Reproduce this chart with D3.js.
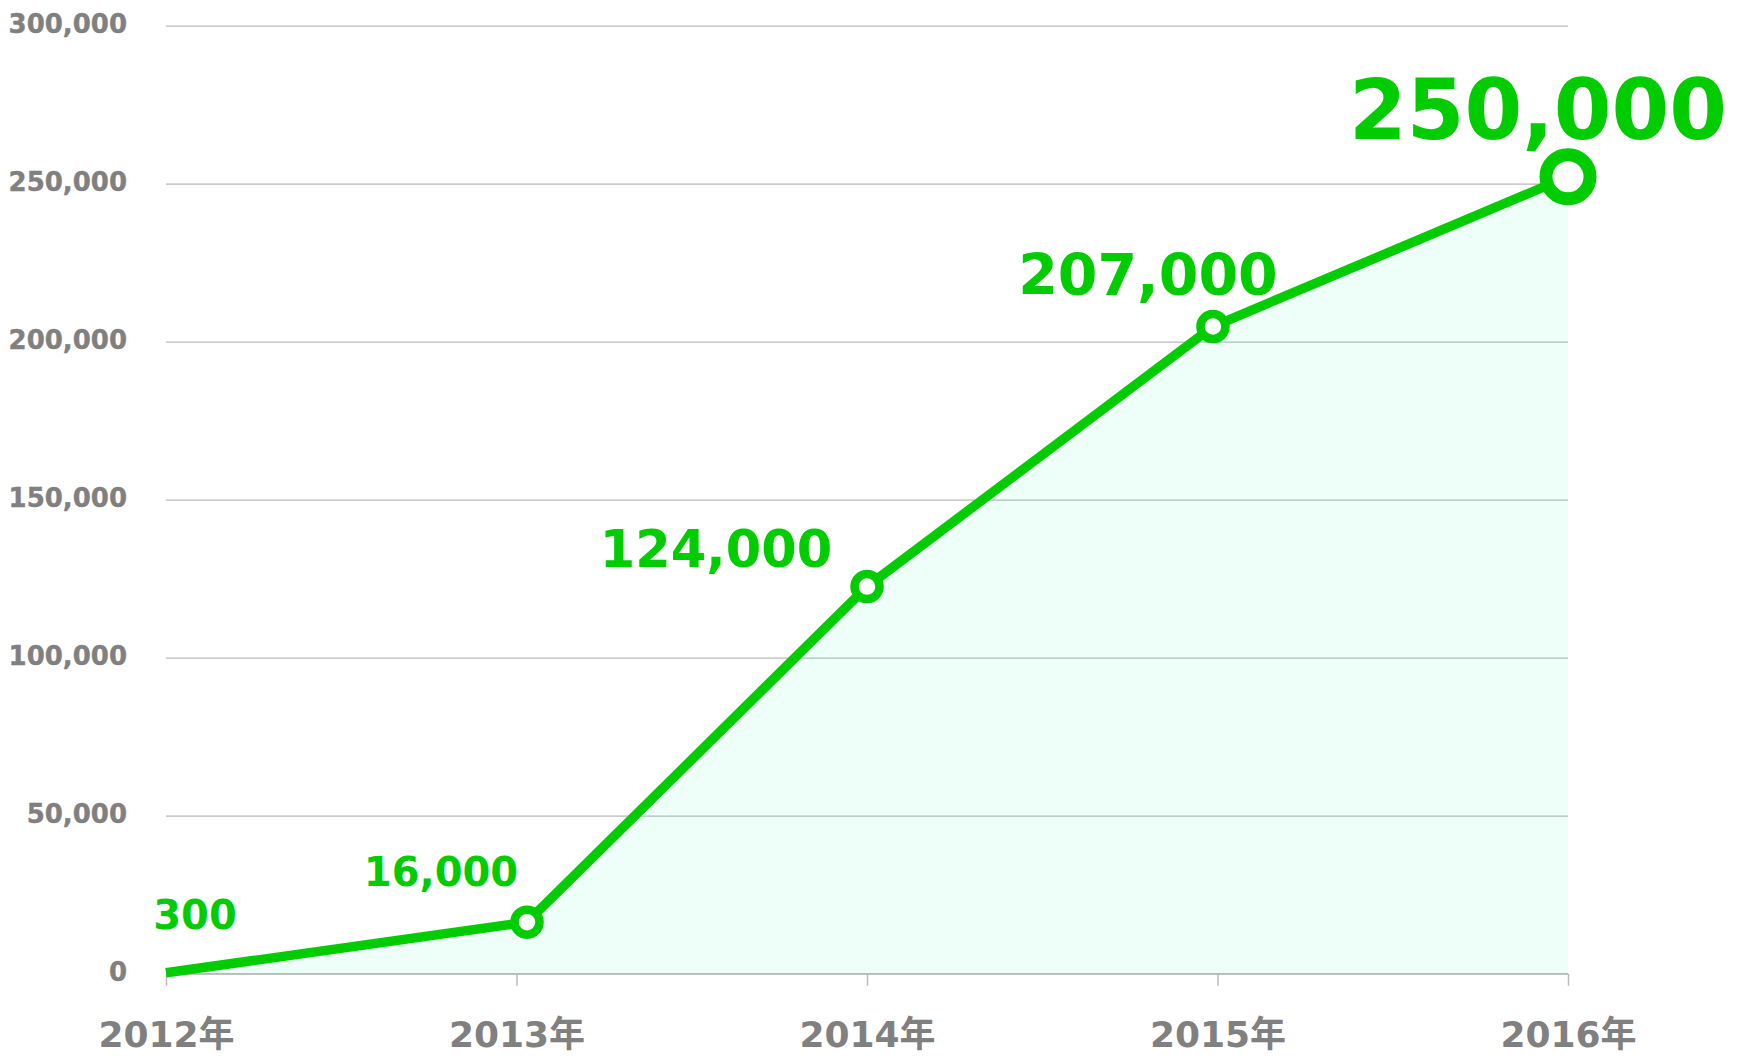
<!DOCTYPE html>
<html>
<head>
<meta charset="utf-8">
<script src="https://cdn.jsdelivr.net/npm/d3@7"></script>
<style>
  html, body { margin: 0; padding: 0; background: #ffffff; }
  svg { display: block; }
  text { font-family: "DejaVu Sans", Verdana, "Noto Sans CJK JP", sans-serif; font-weight: bold; }
</style>
</head>
<body>
<svg id="chart" width="1744" height="1056"></svg>
<script>
// ---- data ----
const years = [2012, 2013, 2014, 2015, 2016];
const yearLabels = ["2012年", "2013年", "2014年", "2015年", "2016年"];
const pointX = [2012, 2013.03, 2014, 2014.987, 2016];
const pointValues = [300, 16300, 122500, 204800, 252200];
const valueLabels = ["300", "16,000", "124,000", "207,000", "250,000"];
const yTicks = [0, 50000, 100000, 150000, 200000, 250000, 300000];

// ---- styles / layout ----
const GREEN = "#00cc00";
const GRAY_TEXT = "#808080";
const GRID = "#bababa";
const labelSizes = [40, 40, 51, 57, 83];
const labelOffsets = [[29, -44], [-86, -36], [-151, -20], [-65, -32], [-30, -38]];
const markerR = [0, 12.5, 12.5, 12.5, 22];
const markerW = [0, 8.5, 8.5, 8.5, 13];

const svg = d3.select("#chart");
const x = d3.scaleLinear().domain([2012, 2016]).range([166, 1568]);
const y = d3.scaleLinear().domain([0, 300000]).range([973.7, 25.7]);

// gridlines via axis
const yAxis = d3.axisLeft(y).tickValues(yTicks)
  .tickSize(-(x.range()[1] - x.range()[0]))
  .tickPadding(39)
  .tickFormat(d3.format(","));
const gy = svg.append("g").attr("transform", `translate(${x.range()[0]},0)`).call(yAxis);
gy.select(".domain").remove();
gy.selectAll(".tick line").attr("stroke", GRID).attr("stroke-width", 1.3);
gy.selectAll(".tick text")
  .attr("fill", GRAY_TEXT).attr("font-size", 26)
  .attr("dy", null).attr("y", 7)
  .attr("stroke", GRAY_TEXT).attr("stroke-width", 0.4);

// x axis
const xAxis = d3.axisBottom(x).tickValues(years).tickSize(12).tickPadding(0)
  .tickFormat((d, i) => yearLabels[i]);
const gx = svg.append("g").attr("transform", `translate(0,${y(0)})`).call(xAxis);
gx.select(".domain").attr("stroke", GRID).attr("stroke-width", 1.5)
  .attr("d", `M${x.range()[0]},0H${x.range()[1]}`);
gx.selectAll(".tick line").attr("stroke", GRID).attr("stroke-width", 1.5);
gx.selectAll(".tick text")
  .attr("fill", GRAY_TEXT).attr("font-size", 36)
  .attr("dy", null).attr("y", 73);

const pts = pointX.map((px, i) => ({ x: px, v: pointValues[i], i }));

// area
svg.append("path").datum(pts)
  .attr("fill", "#00ff99").attr("fill-opacity", 0.07)
  .attr("d", d3.area().x(d => x(d.x)).y0(y(0)).y1(d => y(d.v)));

// line
svg.append("path").datum(pts)
  .attr("fill", "none").attr("stroke", GREEN).attr("stroke-width", 9.5)
  .attr("stroke-linejoin", "round")
  .attr("d", d3.line().x(d => x(d.x)).y(d => y(d.v)));

// markers
svg.selectAll("circle.m").data(pts.filter(d => markerR[d.i] > 0)).join("circle")
  .attr("class", "m")
  .attr("cx", d => x(d.x)).attr("cy", d => y(d.v))
  .attr("r", d => markerR[d.i])
  .attr("fill", "#ffffff").attr("stroke", GREEN)
  .attr("stroke-width", d => markerW[d.i]);

// value labels
svg.selectAll("text.v").data(pts).join("text")
  .attr("class", "v")
  .attr("x", d => x(d.x) + labelOffsets[d.i][0])
  .attr("y", d => y(d.v) + labelOffsets[d.i][1])
  .attr("text-anchor", "middle")
  .attr("font-size", d => labelSizes[d.i])
  .attr("fill", GREEN)
  .text(d => valueLabels[d.i]);
</script>
</body>
</html>
